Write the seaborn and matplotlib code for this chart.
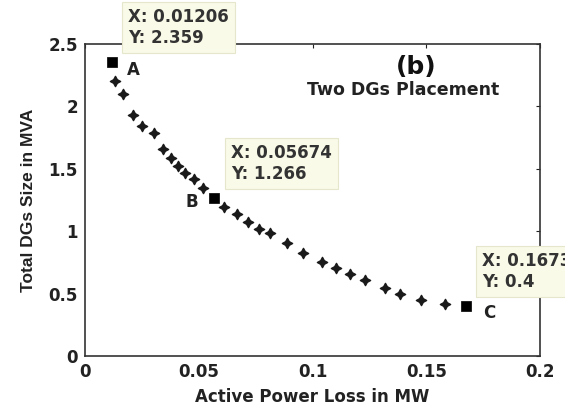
import matplotlib
matplotlib.use("Agg")
import matplotlib.pyplot as plt
import seaborn as sns
import pandas as pd

# Pareto front points (stars)
loss_mw = [0.0132, 0.0168, 0.0212, 0.0249, 0.0303, 0.0344, 0.0376, 0.0411, 0.0440,
           0.0480, 0.0518, 0.0613, 0.0667, 0.0718, 0.0765, 0.0813, 0.0887, 0.0960,
           0.1042, 0.1103, 0.1165, 0.1231, 0.1319, 0.1385, 0.1477, 0.1582]
size_mva = [2.20, 2.10, 1.93, 1.845, 1.785, 1.66, 1.59, 1.525, 1.47,
            1.415, 1.35, 1.19, 1.135, 1.076, 1.02, 0.983, 0.903, 0.823,
            0.757, 0.703, 0.661, 0.609, 0.543, 0.493, 0.449, 0.415]

# Highlighted points A, B, C
key_labels = ["A", "B", "C"]
key_x = [0.01206, 0.05674, 0.1673]
key_y = [2.359, 1.266, 0.4]
key_x_text = ["0.01206", "0.05674", "0.1673"]
key_y_text = ["2.359", "1.266", "0.4"]

x_ticks = [0, 0.05, 0.1, 0.15, 0.2]
x_tick_labels = ["0", "0.05", "0.1", "0.15", "0.2"]
y_ticks = [0, 0.5, 1, 1.5, 2, 2.5]
y_tick_labels = ["0", "0.5", "1", "1.5", "2", "2.5"]

sns.set_theme(style="white")
plt.rcParams['font.family'] = ['DejaVu Sans']
plt.rcParams['font.weight'] = 'bold'

fig = plt.figure(figsize=(5.65, 4.09), dpi=100)
ax = fig.add_axes([0.1504, 0.1296, 0.8054, 0.7628])

df = pd.DataFrame({"x": loss_mw, "y": size_mva})
sns.scatterplot(data=df, x="x", y="y", ax=ax, marker=(4, 1, 0), s=55,
                color="#1a1a1a", edgecolor="#1a1a1a", linewidth=1.0, zorder=3)
dk = pd.DataFrame({"x": key_x, "y": key_y})
sns.scatterplot(data=dk, x="x", y="y", ax=ax, marker="s", s=55,
                color="black", edgecolor="black", linewidth=0.5, zorder=4)

ax.set_xlim(0, 0.2)
ax.set_ylim(0, 2.5)
ax.set_xticks(x_ticks)
ax.set_xticklabels(x_tick_labels)
ax.set_yticks(y_ticks)
ax.set_yticklabels(y_tick_labels)
ax.tick_params(direction="in", length=3, width=0.8, top=True, right=True,
               labelsize=12, colors="#222222", pad=5)
for lab in ax.get_xticklabels() + ax.get_yticklabels():
    lab.set_fontweight("bold")
for sp in ax.spines.values():
    sp.set_visible(True)
    sp.set_color("#333333")
    sp.set_linewidth(1.2)

ax.set_xlabel("Active Power Loss in MW", fontsize=12, fontweight="bold",
              color="#222222", labelpad=5)
ax.set_ylabel("Total DGs Size in MVA", fontsize=12.5, fontweight="bold",
              color="#222222", labelpad=9, family="Liberation Sans")

# point labels
label_offsets = [(15, -6), (-16, -3), (17, -5)]
for lbl, x, y, off in zip(key_labels, key_x, key_y, label_offsets):
    ax.annotate(lbl, (x, y), xytext=off, textcoords="offset points",
                fontsize=12, fontweight="bold", color="#222222",
                ha="center", va="center")

# data tips
tip_pos = [(0.0189, 2.632), (0.0642, 1.542), (0.1745, 0.677)]
for (tx, ty), xs, ys in zip(tip_pos, key_x_text, key_y_text):
    ax.text(tx, ty, f"X: {xs}\nY: {ys}", fontsize=12, fontweight="bold",
            color="#333333", ha="left", va="center", linespacing=1.25,
            bbox=dict(boxstyle="square,pad=0.35", facecolor="#fafae8",
                      edgecolor="#e6e6cc", linewidth=0.8),
            zorder=5, clip_on=False)

ax.text(0.727, 0.925, "(b)", transform=ax.transAxes, fontsize=18,
        fontweight="bold", color="#111111", ha="center", va="center")
ax.text(0.699, 0.852, "Two DGs Placement", transform=ax.transAxes, fontsize=12.5,
        fontweight="bold", color="#222222", ha="center", va="center")

fig.savefig("out.png", dpi=100)
